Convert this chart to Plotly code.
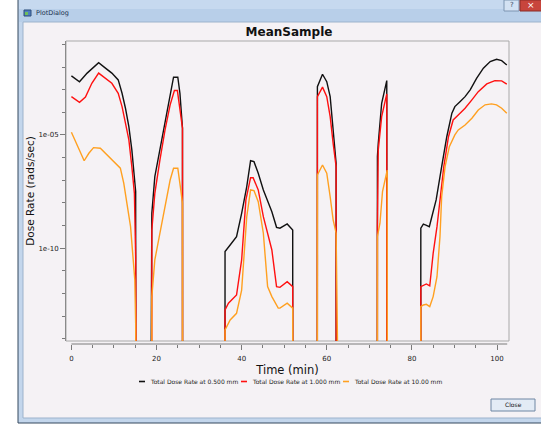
import plotly.graph_objects as go

# ---------------- data ----------------
series_names = ["Total Dose Rate at 0.500 mm", "Total Dose Rate at 1.000 mm", "Total Dose Rate at 10.00 mm"]
series_colors = ["#111111", "#ff1010", "#ffa020"]

t_black = [0.0, 1.9, 3.7, 6.4, 8.0, 9.5, 11.0, 11.9, 12.7, 13.5, 14.2, 14.8, 15.1, 15.3,
           18.7, 18.9, 19.6, 20.8, 22.0, 23.2, 24.0, 25.0, 25.5, 26.1, 26.3,
           35.9, 36.1, 37.3, 38.8, 40.0, 41.2, 42.1, 42.9, 43.9, 45.1, 47.1, 48.2, 49.0, 50.7, 52.0, 52.2,
           57.6, 57.8, 59.0, 60.0, 60.8, 61.5, 62.2, 62.4,
           71.7, 71.9, 72.1, 72.9, 73.5, 74.1, 74.3,
           81.9, 82.1, 82.7, 83.3, 84.1, 84.6, 85.7, 87.0, 88.2, 89.4, 90.1, 91.3, 92.5, 93.7, 95.2,
           96.8, 98.4, 99.9, 101.1, 102.3]
v_black = [4.07e-3, 2.24e-3, 5.37e-3, 1.55e-2, 8.91e-3, 5.37e-3, 2.69e-3, 6.92e-4, 1.51e-4, 2.34e-5, 2.19e-6, 2.04e-7, 3.16e-8, 0,
           0, 3.47e-9, 1.45e-7, 2.19e-6, 4.57e-5, 6.92e-4, 3.55e-3, 3.55e-3, 6.92e-4, 2.0e-5, 0,
           0, 7.08e-11, 1.38e-10, 3.24e-10, 3.47e-9, 5.25e-8, 7.24e-7, 6.61e-7, 2.04e-7, 3.72e-8, 4.07e-9, 8.32e-10, 7.59e-10, 1.17e-9, 6.31e-10, 0,
           0, 1.35e-3, 4.79e-3, 2.24e-3, 4.90e-4, 2.34e-5, 5.62e-7, 0,
           0, 1.10e-6, 4.27e-6, 2.51e-4, 6.92e-4, 2.51e-3, 0,
           0, 7.59e-10, 1.15e-9, 1.05e-9, 8.91e-10, 2.09e-9, 1.35e-8, 3.98e-7, 8.32e-6, 9.12e-5, 1.78e-4, 2.95e-4, 4.90e-4, 9.77e-4, 3.16e-3,
           8.91e-3, 1.74e-2, 2.19e-2, 1.91e-2, 1.23e-2]

t_red = [0.0, 1.9, 3.3, 4.8, 6.4, 8.0, 9.5, 11.0, 11.9, 12.7, 13.5, 14.2, 14.8, 15.1, 15.3,
         18.7, 18.9, 19.6, 20.8, 22.0, 23.2, 24.2, 24.9, 25.5, 26.1, 26.3,
         35.9, 36.1, 36.9, 38.8, 40.0, 41.0, 42.1, 42.7, 43.9, 45.1, 47.1, 48.2, 49.0, 50.7, 52.0, 52.2,
         57.6, 57.8, 59.0, 60.0, 60.8, 61.5, 62.2, 62.4,
         71.7, 71.9, 72.1, 72.9, 73.5, 74.1, 74.3,
         81.9, 82.1, 82.7, 83.4, 84.2, 85.0, 85.9, 86.6, 87.5, 88.6, 89.7, 90.9, 92.5, 94.1, 95.6, 97.6,
         99.5, 101.1, 102.3]
v_red = [4.90e-4, 2.75e-4, 4.68e-4, 1.91e-3, 5.37e-3, 3.16e-3, 1.91e-3, 6.92e-4, 1.78e-4, 3.31e-5, 6.03e-6, 3.98e-7, 2.63e-8, 4.17e-11, 0,
         0, 6.31e-10, 2.63e-8, 7.94e-7, 1.66e-5, 2.14e-4, 9.12e-4, 9.12e-4, 1.26e-4, 2.0e-5, 0,
         0, 1.86e-13, 3.72e-13, 8.51e-13, 3.02e-11, 1.35e-8, 1.29e-7, 1.29e-7, 3.72e-8, 2.45e-9, 8.32e-11, 2.0e-12, 1.86e-12, 3.31e-12, 2.0e-12, 0,
         0, 4.90e-4, 1.29e-3, 4.90e-4, 6.46e-5, 4.27e-6, 3.98e-7, 0,
         0, 8.91e-10, 2.19e-6, 6.46e-5, 1.78e-4, 6.46e-4, 0,
         0, 2.0e-12, 2.34e-12, 2.63e-12, 2.14e-12, 5.89e-11, 8.91e-10, 1.35e-8, 3.98e-7, 8.32e-6, 4.57e-5, 7.59e-5, 1.51e-4, 3.55e-4, 8.13e-4, 1.78e-3,
         2.51e-3, 2.45e-3, 1.74e-3]

t_orange = [0.0, 1.3, 3.0, 4.1, 5.2, 6.8, 8.4, 9.9, 11.5, 12.3, 13.1, 13.9, 14.4, 14.9, 15.1, 15.3,
            18.7, 18.9, 19.6, 20.8, 22.0, 23.2, 24.0, 25.0, 25.7, 26.1, 26.3,
            35.9, 36.1, 37.3, 38.8, 40.0, 41.2, 42.1, 42.9, 43.9, 45.1, 46.1, 47.1, 48.6, 49.0, 50.7, 52.0, 52.2,
            57.6, 57.8, 59.0, 60.0, 60.8, 61.5, 62.2, 62.4,
            71.7, 71.9, 72.5, 73.1, 73.7, 74.2, 74.5,
            81.9, 82.1, 82.7, 83.4, 84.2, 85.0, 85.9, 86.6, 87.0, 87.8, 88.8, 90.1, 90.9, 92.5, 94.1, 95.6,
            97.2, 98.7, 99.9, 101.1, 102.3]
v_orange = [1.32e-5, 3.63e-6, 7.24e-7, 1.55e-6, 2.75e-6, 2.57e-6, 1.32e-6, 6.61e-7, 3.39e-7, 7.41e-8, 9.55e-9, 8.91e-10, 5.89e-11, 3.98e-12, 4.79e-14, 0,
            0, 7.24e-13, 3.02e-11, 4.57e-10, 6.76e-9, 1.02e-7, 3.39e-7, 3.39e-7, 3.72e-8, 9.55e-9, 0,
            0, 2.45e-14, 6.76e-14, 1.32e-13, 1.41e-12, 2.45e-9, 3.72e-8, 3.47e-8, 1.12e-8, 4.57e-10, 2.0e-12, 7.24e-13, 2.24e-13, 2.24e-13, 3.72e-13, 2.24e-13, 0,
            0, 1.70e-7, 4.68e-7, 2.04e-7, 1.86e-8, 1.78e-9, 4.57e-10, 0,
            0, 3.24e-10, 1.26e-9, 3.16e-8, 1.02e-7, 2.82e-7, 0,
            0, 2.63e-13, 3.09e-13, 3.31e-13, 2.63e-13, 7.24e-13, 5.50e-12, 3.24e-10, 1.86e-8, 3.98e-7, 3.02e-6, 1.0e-5, 1.66e-5, 2.75e-5, 5.50e-5, 1.26e-4,
            2.14e-4, 2.34e-4, 2.14e-4, 1.51e-4, 9.12e-5]

x_tick_step = 20
y_tick_vals = [1e-10, 1e-05]
y_tick_text = ["1e-10", "1e-05"]
y_minor_vals = [10.0 ** -k for k in range(1, 15)]

# ---------------- geometry of the dialog (pixels) ----------------
W, H = 541, 424
PL, PR, PT, PB = 66, 509, 41, 344     # plot area in pixels (x axis backbone at PB)
CANVAS_BOTTOM = 341
PW, PH = PR - PL, PB - PT


def fx(p):
    return (p - PL) / PW


def fy(p):
    return (PB - p) / PH


# Qwt log scale sends zero far below the canvas
LOG_FLOOR = 1e-150


def clip0(vals):
    return [v if v > 0 else LOG_FLOOR for v in vals]


FONT = "DejaVu Sans"
BG = "#f5f2f5"

fig = go.Figure()
for t, v, name, col in zip([t_black, t_red, t_orange], [v_black, v_red, v_orange], series_names, series_colors):
    fig.add_trace(go.Scatter(x=t, y=clip0(v), mode="lines", name=name,
                             line=dict(color=col, width=1.4), showlegend=False))

shapes = []
# dialog outer frame + border
shapes.append(dict(type="rect", xref="paper", yref="paper", x0=fx(18), x1=fx(560), y0=fy(423), y1=fy(-5),
                   fillcolor="#c3d6ec", line=dict(color="#34485e", width=1), layer="below"))
# title bar
shapes.append(dict(type="rect", xref="paper", yref="paper", x0=fx(19), x1=fx(560), y0=fy(22), y1=fy(-5),
                   fillcolor="#b8cfe9", line=dict(width=0), layer="below"))
shapes.append(dict(type="rect", xref="paper", yref="paper", x0=fx(19), x1=fx(560), y0=fy(9), y1=fy(-5),
                   fillcolor="#c6d9ef", line=dict(width=0), layer="below"))
# content area
shapes.append(dict(type="rect", xref="paper", yref="paper", x0=fx(23), x1=fx(560), y0=fy(418), y1=fy(22),
                   fillcolor=BG, line=dict(color="#9db3cc", width=1), layer="below"))
# title bar icon
shapes.append(dict(type="rect", xref="paper", yref="paper", x0=fx(24), x1=fx(31), y0=fy(16), y1=fy(10),
                   fillcolor="#4f7fbf", line=dict(color="#2e4f7a", width=1), layer="below"))
shapes.append(dict(type="rect", xref="paper", yref="paper", x0=fx(25), x1=fx(28), y0=fy(15), y1=fy(12),
                   fillcolor="#6fbf5a", line=dict(width=0), layer="below"))
# help and close buttons in title bar
shapes.append(dict(type="rect", xref="paper", yref="paper", x0=fx(504), x1=fx(519), y0=fy(11), y1=fy(0),
                   fillcolor="#d3e2f3", line=dict(color="#7d95b2", width=1), layer="below"))
shapes.append(dict(type="rect", xref="paper", yref="paper", x0=fx(520), x1=fx(545), y0=fy(11), y1=fy(0),
                   fillcolor="#c8453c", line=dict(color="#8a2c27", width=1), layer="below"))
# Close push button
shapes.append(dict(type="rect", xref="paper", yref="paper", x0=fx(491), x1=fx(535), y0=fy(411), y1=fy(399),
                   fillcolor="#e3ebf5", line=dict(color="#6f86a3", width=1), layer="below"))
# plot canvas frame
shapes.append(dict(type="rect", xref="paper", yref="paper", x0=0, x1=1, y0=fy(CANVAS_BOTTOM), y1=1,
                   fillcolor=BG, line=dict(color="#a9a9a9", width=1), layer="below"))
# x axis backbone (Qwt scale draws it only over the scale interval)
shapes.append(dict(type="line", xref="x", yref="paper", x0=0, x1=102.4, y0=0, y1=0,
                   line=dict(color="#7a7a7a", width=1)))

# custom compact legend
legend_sym_x = [139, 241, 343]
for sx, col in zip(legend_sym_x, series_colors):
    shapes.append(dict(type="line", xref="paper", yref="paper", x0=fx(sx), x1=fx(sx + 6), y0=fy(381.5), y1=fy(381.5),
                       line=dict(color=col, width=1.6)))

annotations = []
for sx, name in zip(legend_sym_x, series_names):
    annotations.append(dict(text=name, xref="paper", yref="paper", x=fx(sx + 9), y=fy(381.5),
                            xanchor="left", yanchor="middle", showarrow=False,
                            font=dict(family=FONT, size=6, color="#222222")))
annotations.append(dict(text="PlotDialog", xref="paper", yref="paper", x=fx(34), y=fy(13),
                        xanchor="left", yanchor="middle", showarrow=False,
                        font=dict(family=FONT, size=6.5, color="#1d3350")))
annotations.append(dict(text="?", xref="paper", yref="paper", x=fx(511.5), y=fy(5.5),
                        xanchor="center", yanchor="middle", showarrow=False,
                        font=dict(family=FONT, size=7, color="#33475f")))
annotations.append(dict(text="×", xref="paper", yref="paper", x=fx(531), y=fy(5.5),
                        xanchor="center", yanchor="middle", showarrow=False,
                        font=dict(family=FONT, size=9, color="#ffffff")))
annotations.append(dict(text="Close", xref="paper", yref="paper", x=fx(513), y=fy(405),
                        xanchor="center", yanchor="middle", showarrow=False,
                        font=dict(family=FONT, size=6, color="#111111")))

fig.update_layout(
    width=W, height=H,
    margin=dict(l=PL, r=W - PR, t=PT, b=H - PB, pad=0),
    paper_bgcolor="#ffffff", plot_bgcolor="rgba(0,0,0,0)",
    font=dict(family=FONT, color="#222222"),
    title=dict(text="<b>MeanSample</b>", x=fx(289), xref="paper", xanchor="center",
               y=1 - 31.5 / H, yanchor="middle", font=dict(family=FONT, size=12, color="#111111")),
    shapes=shapes, annotations=annotations, showlegend=False,
    xaxis=dict(range=[-1.27, 102.82], anchor="free", position=0, showline=False, showgrid=False, zeroline=False,
               tickmode="linear", tick0=0, dtick=x_tick_step, ticks="outside", ticklen=5, tickwidth=1,
               tickcolor="#7a7a7a", tickfont=dict(family=FONT, size=7, color="#222222"), ticklabelstandoff=3,
               minor=dict(dtick=5, tick0=0, ticks="outside", ticklen=3, tickcolor="#7a7a7a", showgrid=False),
               title=dict(text="Time (min)", standoff=3, font=dict(family=FONT, size=11.5, color="#111111"))),
    yaxis=dict(type="log", range=[-14.10, -0.852], domain=[fy(CANVAS_BOTTOM), 1],
               showline=True, linecolor="#8a8a8a", linewidth=1, showgrid=False, zeroline=False,
               tickmode="array", tickvals=y_tick_vals, ticktext=y_tick_text, ticks="outside", ticklen=5,
               tickcolor="#7a7a7a", tickfont=dict(family=FONT, size=7, color="#222222"),
               minor=dict(tickmode="array", tickvals=y_minor_vals, ticks="outside", ticklen=3,
                          tickcolor="#7a7a7a", showgrid=False),
               title=dict(text="Dose Rate (rads/sec)", standoff=1, font=dict(family=FONT, size=10.5, color="#111111"))),
)

fig.write_html("out.html", config={"displayModeBar": False, "staticPlot": True},
               post_script="document.body.style.margin='0px';document.body.style.overflow='hidden';")
